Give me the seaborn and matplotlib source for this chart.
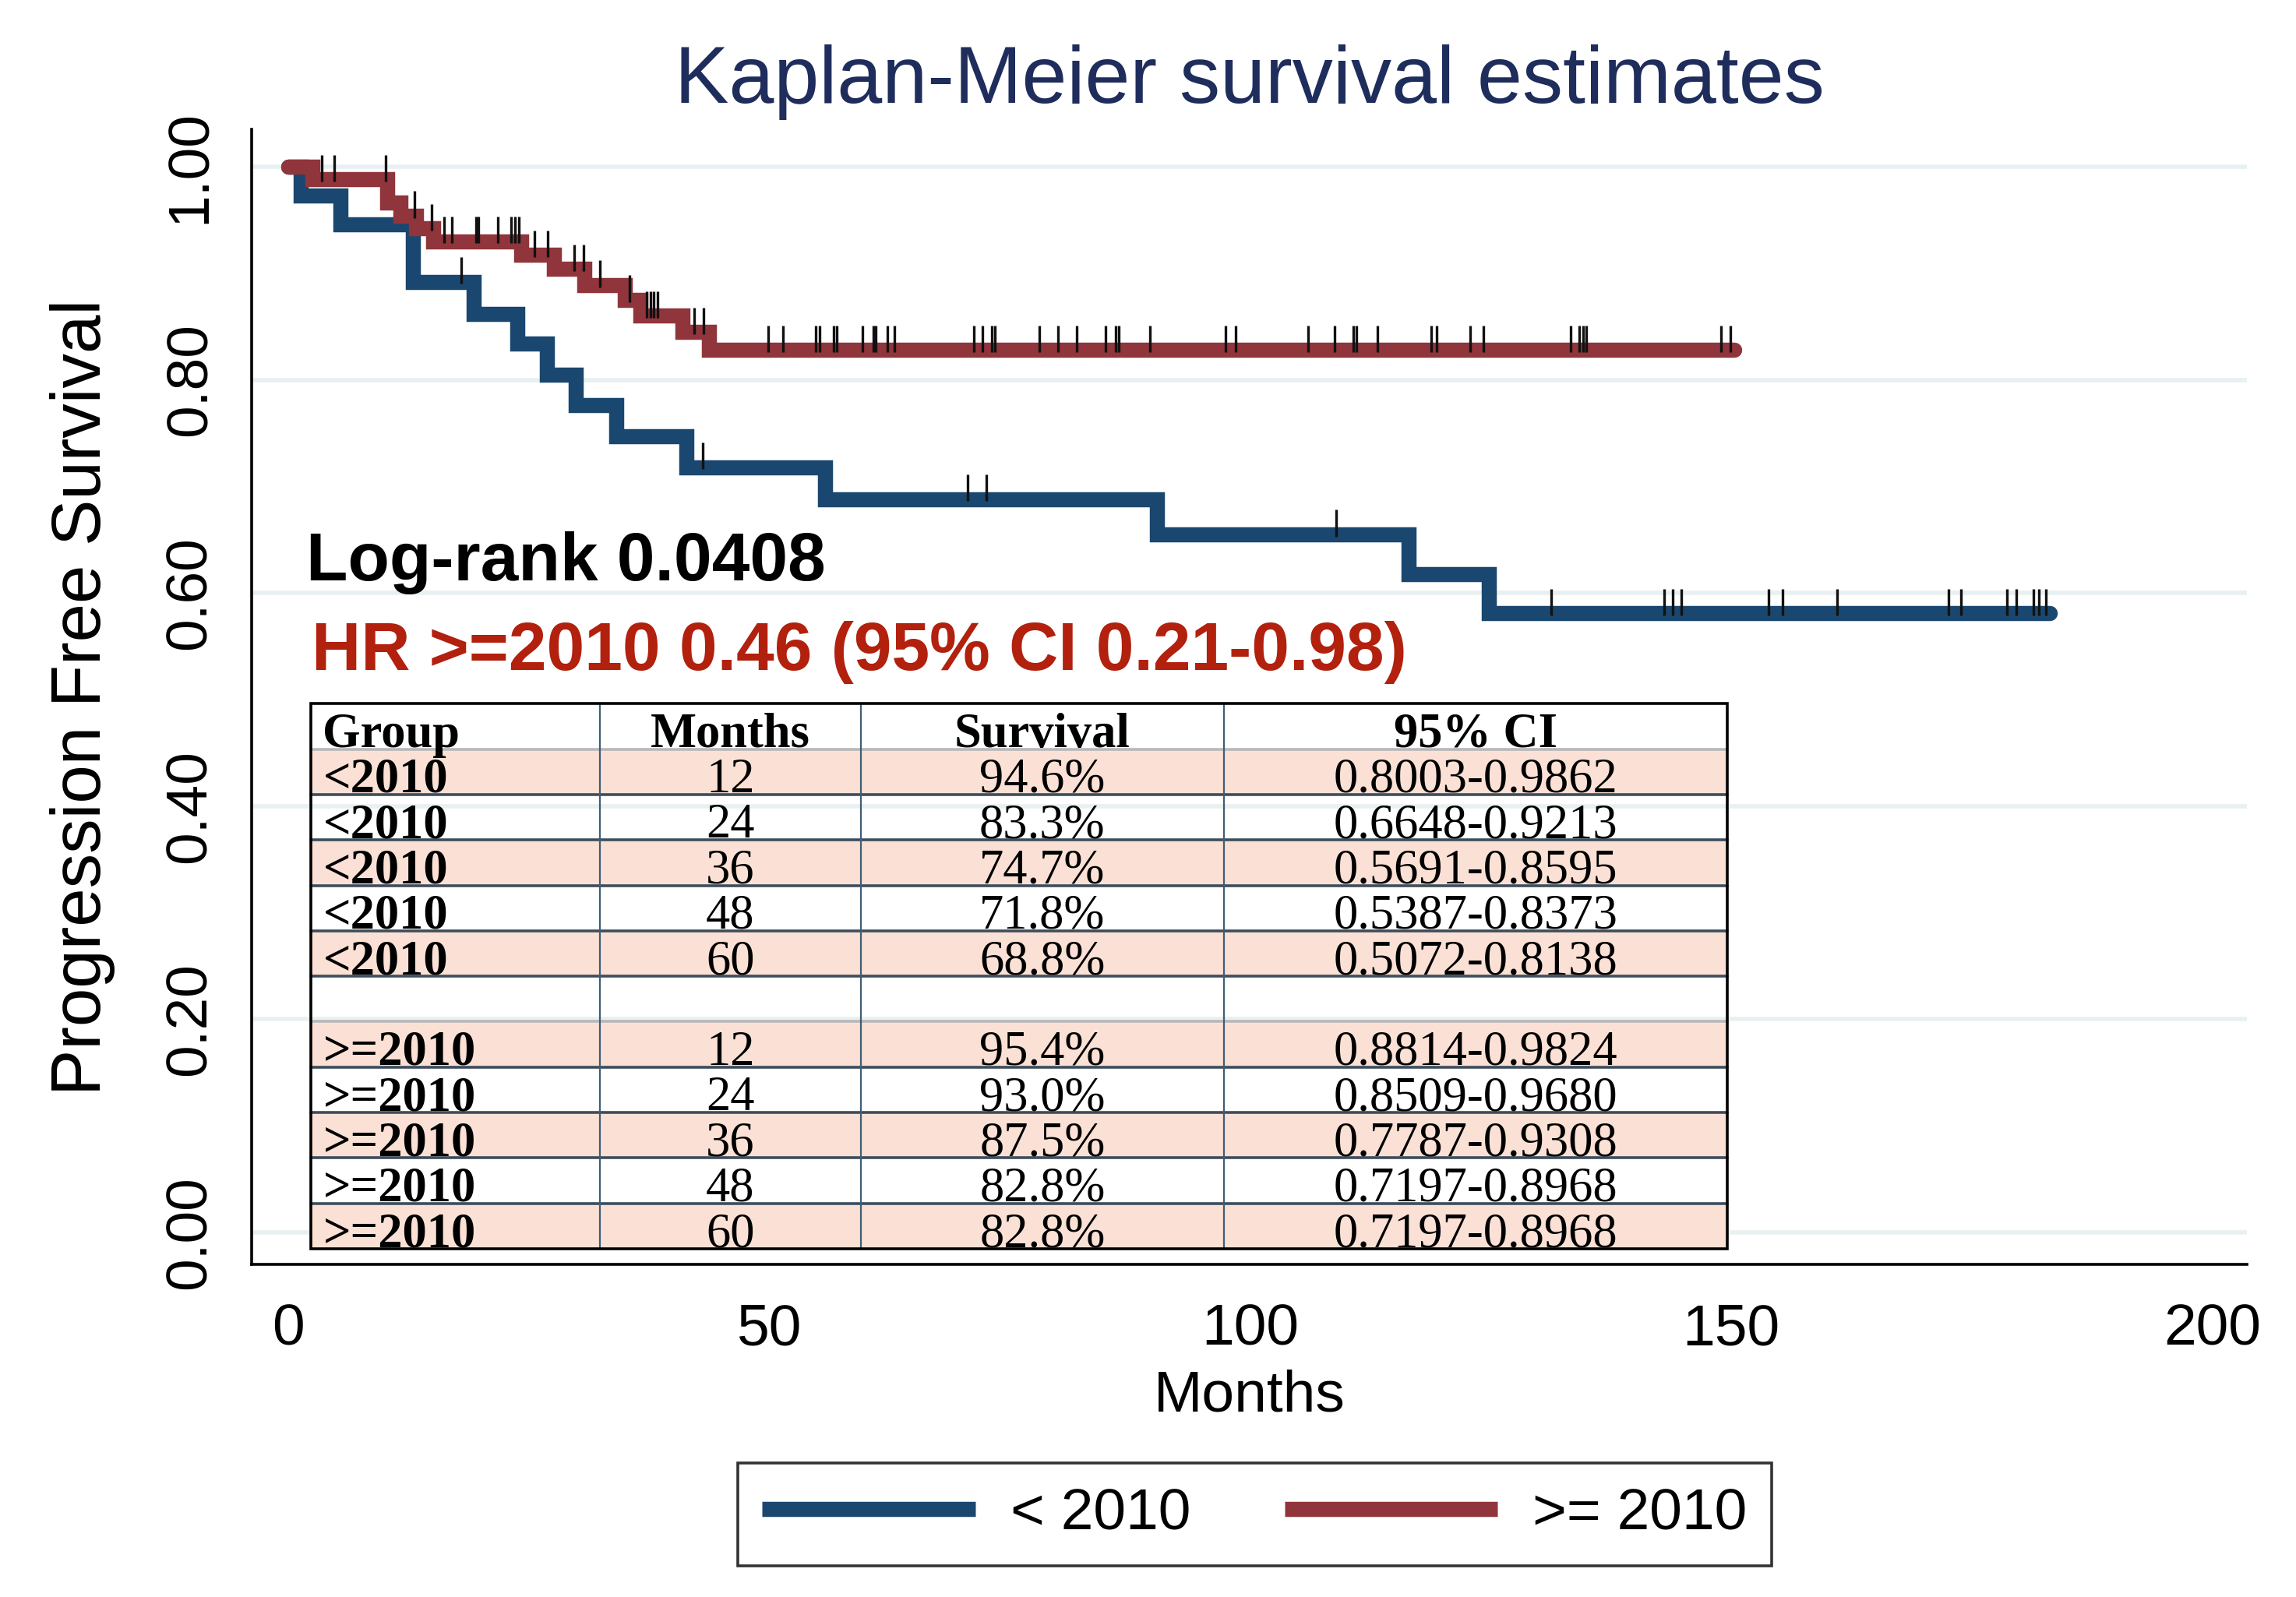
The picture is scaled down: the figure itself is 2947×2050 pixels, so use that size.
import numpy as np
import pandas as pd
import seaborn as sns
import matplotlib.pyplot as plt
from matplotlib.patches import Rectangle

# KM step points: month of each drop and survival after it
lt_time = [0, 1.3, 5.4, 13.0, 19.3, 23.8, 26.9, 29.9, 34.1, 41.4, 55.8, 90.3, 116.5, 124.8, 183.1]
lt_surv = [1.0, 0.973, 0.946, 0.892, 0.862, 0.834, 0.805, 0.776, 0.747, 0.718, 0.688, 0.655, 0.618, 0.581, 0.581]
ge_time = [0, 2.5, 10.3, 11.7, 13.3, 15.1, 24.2, 27.6, 30.8, 35.0, 36.6, 41.0, 43.7, 150.3]
ge_surv = [1.0, 0.988, 0.966, 0.954, 0.942, 0.930, 0.917, 0.904, 0.889, 0.875, 0.860, 0.845, 0.828, 0.828]

# censored observations (months)
lt_censor = [18.0, 43.1, 70.6, 72.6, 108.9, 131.3, 143.0, 143.9, 144.8, 153.9, 155.3,
             161.0, 172.6, 173.9, 178.7, 179.6, 181.4, 182.0, 182.7]
ge_censor = [3.5, 4.8, 10.1, 13.1, 14.9, 16.2, 17.0, 19.5, 19.8, 21.8, 23.2, 23.6, 24.0,
             25.6, 27.0, 29.7, 30.7, 32.4, 35.5, 37.3, 37.7, 38.0, 38.4, 42.2, 43.2,
             49.9, 51.4, 54.8, 55.2, 56.7, 57.0, 59.7, 60.8, 61.1, 62.3, 63.0, 71.3,
             72.2, 73.1, 73.5, 78.1, 80.0, 82.0, 85.0, 86.0, 86.3, 89.6, 97.4, 98.5,
             106.0, 108.8, 110.7, 111.0, 113.2, 118.8, 119.4, 122.9, 124.2, 133.3,
             134.2, 134.6, 134.9, 148.9, 149.9]

groups = ['< 2010', '>= 2010']
x_ticks = [0, 50, 100, 150, 200]
y_ticks = [0.0, 0.2, 0.4, 0.6, 0.8, 1.0]

tbl_header = ['Group', 'Months', 'Survival', '95% CI']
tbl_months = ['12', '24', '36', '48', '60']
lt_tbl_surv = ['94.6%', '83.3%', '74.7%', '71.8%', '68.8%']
lt_tbl_ci = ['0.8003-0.9862', '0.6648-0.9213', '0.5691-0.8595', '0.5387-0.8373', '0.5072-0.8138']
ge_tbl_surv = ['95.4%', '93.0%', '87.5%', '82.8%', '82.8%']
ge_tbl_ci = ['0.8814-0.9824', '0.8509-0.9680', '0.7787-0.9308', '0.7197-0.8968', '0.7197-0.8968']

BLUE = '#1a476f'
RED = '#90353b'

sns.set_style('white')
plt.rcParams['font.family'] = ['Liberation Sans', 'DejaVu Sans']
plt.rcParams['text.color'] = 'black'
plt.rcParams['axes.labelcolor'] = 'black'

df = pd.concat([
    pd.DataFrame({'Months': lt_time, 'Survival': lt_surv, 'Group': groups[0]}),
    pd.DataFrame({'Months': ge_time, 'Survival': ge_surv, 'Group': groups[1]}),
], ignore_index=True)

fig = plt.figure(figsize=(14.735, 10.25), dpi=200)
ax = fig.add_axes([0.1096, 0.2083, 0.869, 0.7107])

sns.lineplot(data=df, x='Months', y='Survival', hue='Group', hue_order=groups,
             palette={groups[0]: BLUE, groups[1]: RED}, estimator=None, sort=False,
             drawstyle='steps-post', lw=7, solid_capstyle='round',
             solid_joinstyle='miter', legend=False, ax=ax)

# censor ticks
for t, s, cens in [(lt_time, lt_surv, lt_censor), (ge_time, ge_surv, ge_censor)]:
    idx = np.searchsorted(t, cens, side='right') - 1
    lev = np.array(s)[idx]
    ax.vlines(cens, lev - 0.002, lev + 0.023, colors='#111111', lw=1.2, zorder=5)

ax.set_xlim(-3.8, 203.6)
ax.set_ylim(-0.03, 1.035)
ax.set_xticks(x_ticks)
ax.set_yticks(y_ticks)
ax.set_yticklabels([f'{v:.2f}' for v in y_ticks])
ax.yaxis.grid(True, color='#e8f0f2', lw=2)
ax.xaxis.grid(False)
sns.despine(ax=ax)
for side in ['left', 'bottom']:
    ax.spines[side].set_color('black')
    ax.spines[side].set_linewidth(1.3)
ax.tick_params(axis='both', direction='out', length=11, width=1.2, color='#222222',
               labelsize=27, labelcolor='black')
ax.tick_params(axis='x', pad=6.8)
ax.tick_params(axis='y', pad=5, labelrotation=90)
for lbl in ax.get_yticklabels():
    lbl.set_va('center')

ax.set_xlabel('Months', fontsize=27)
ax.xaxis.set_label_coords(0.5, -0.092)
ax.set_ylabel('Progression Free Survival', fontsize=32)
ax.yaxis.set_label_coords(-0.0683, 0.5)

fig.text(0.5441, 0.9356, 'Kaplan-Meier survival estimates', ha='center', va='baseline',
         fontsize=37.5, color='#1f2d5c')

ax.text(0.0273, 0.6026, 'Log-rank 0.0408', transform=ax.transAxes, fontsize=31.5,
        fontweight='bold', color='black', va='baseline')
ax.text(0.0300, 0.5237, 'HR >=2010 0.46 (95% CI 0.21-0.98)', transform=ax.transAxes,
        fontsize=31.5, fontweight='bold', color='#b2200e', va='baseline')

# summary table
rows = [tbl_header]
rows += [['<2010', m, s, c] for m, s, c in zip(tbl_months, lt_tbl_surv, lt_tbl_ci)]
rows += [['', '', '', '']]
rows += [['>=2010', m, s, c] for m, s, c in zip(tbl_months, ge_tbl_surv, ge_tbl_ci)]

col_edges = [0.0297, 0.1745, 0.3053, 0.4873, 0.7396]
tbl_top, tbl_bot = 0.494, 0.0137
rh = (tbl_top - tbl_bot) / len(rows)
serif = ['Liberation Serif', 'DejaVu Serif']
for i, row in enumerate(rows):
    yb = tbl_top - (i + 1) * rh
    if i > 0 and i != 6 and (i if i < 6 else i - 6) % 2 == 1:
        ax.add_patch(Rectangle((col_edges[0], yb), col_edges[-1] - col_edges[0], rh,
                               transform=ax.transAxes, facecolor='#fbe1d5',
                               edgecolor='none', zorder=6, clip_on=False))
    for j, txt in enumerate(row):
        bold = (i == 0 or j == 0)
        if j == 0:
            xpos, ha = col_edges[0] + 0.006, 'left'
        else:
            xpos, ha = (col_edges[j] + col_edges[j + 1]) / 2, 'center'
        ax.text(xpos, yb + 0.002, txt, transform=ax.transAxes, ha=ha, va='baseline',
                fontsize=22.5, family=serif, fontweight='bold' if bold else 'normal',
                color='black', zorder=8, clip_on=False)
for i in range(1, len(rows)):
    y = tbl_top - i * rh
    c = '#b8b8b8' if i in (1, 7) else '#3d4d5c'
    ax.plot([col_edges[0], col_edges[-1]], [y, y], transform=ax.transAxes, color=c,
            lw=1.3, zorder=7, clip_on=False)
for xe in col_edges[1:-1]:
    ax.plot([xe, xe], [tbl_bot, tbl_top], transform=ax.transAxes, color='#3f5d75',
            lw=0.8, zorder=7, clip_on=False)
ax.add_patch(Rectangle((col_edges[0], tbl_bot), col_edges[-1] - col_edges[0],
                       tbl_top - tbl_bot, transform=ax.transAxes, fill=False,
                       edgecolor='black', lw=1.3, zorder=9, clip_on=False))

handles = ax.get_lines()[:2]
leg = fig.legend(handles, groups, loc='center', bbox_to_anchor=(0.5465, 0.0517), ncol=2,
                 frameon=True, fancybox=False, edgecolor='black', fontsize=27,
                 handlelength=3.65, handletextpad=0.6, columnspacing=1.6, borderpad=0.42)
leg.get_frame().set_linewidth(1.3)
for h in leg.legend_handles:
    h.set_solid_capstyle('butt')

fig.savefig('out.png', dpi=200, facecolor='white')
